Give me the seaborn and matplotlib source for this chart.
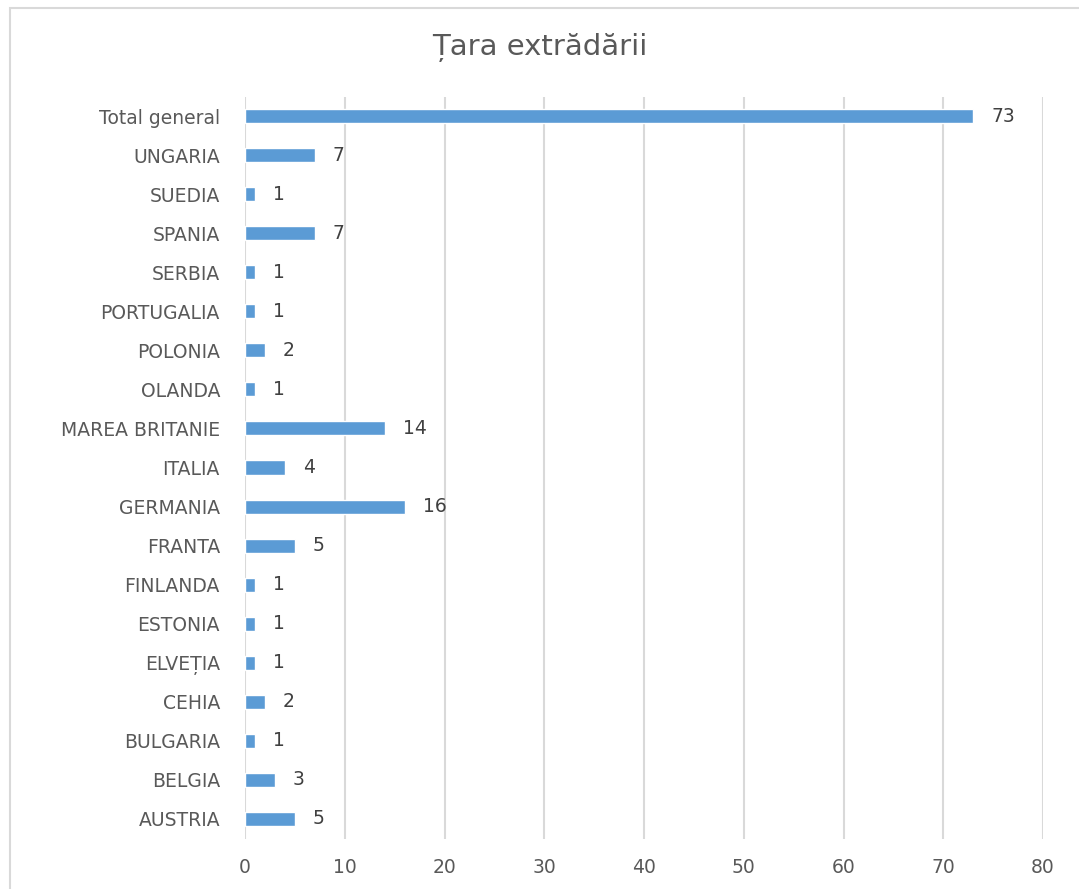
import matplotlib
matplotlib.use("Agg")
import matplotlib.pyplot as plt
import seaborn as sns
import pandas as pd
from matplotlib.patches import Rectangle

categories = ["Total general", "UNGARIA", "SUEDIA", "SPANIA", "SERBIA", "PORTUGALIA",
              "POLONIA", "OLANDA", "MAREA BRITANIE", "ITALIA", "GERMANIA", "FRANTA",
              "FINLANDA", "ESTONIA", "ELVEȚIA", "CEHIA", "BULGARIA", "BELGIA", "AUSTRIA"]
values = [73, 7, 1, 7, 1, 1, 2, 1, 14, 4, 16, 5, 1, 1, 1, 2, 1, 3, 5]
x_ticks = [0, 10, 20, 30, 40, 50, 60, 70, 80]
title = "Țara extrădării"

sns.set_theme(style="white")
plt.rcParams['font.family'] = ['DejaVu Sans']

df = pd.DataFrame({"cat": categories, "val": values})

fig = plt.figure(figsize=(10.79, 8.89), dpi=100)
ax = fig.add_axes([245/1079, 1 - 838.5/889, (1043-245)/1079, (838.5-96.5)/889])

sns.barplot(data=df, y="cat", x="val", color="#5B9BD5", saturation=1, width=0.36, ax=ax, zorder=3)

ax.set_xlim(0, 80)
ax.set_ylim(18.5, -0.5)
ax.set_xticks(x_ticks)
ax.set_xticklabels([str(t) for t in x_ticks])
ax.xaxis.grid(True, color="#D9D9D9", linewidth=1.5, zorder=0)
ax.yaxis.grid(False)
for s in ax.spines.values():
    s.set_visible(False)
ax.set_xlabel("")
ax.set_ylabel("")
ax.tick_params(axis="both", length=0, labelsize=13.5, colors="#595959")
ax.tick_params(axis="x", pad=14)
ax.tick_params(axis="y", pad=18)

for i, v in enumerate(values):
    ax.text(v + 1.8, i, str(v), va="center", ha="left", fontsize=13.5, color="#404040")

fig.text(0.5, 1 - 48/889, title, ha="center", va="center", fontsize=21, color="#595959")

fig.patches.append(Rectangle((10/1079, -0.05), 1.1, 1 - 8/889 + 0.05, transform=fig.transFigure,
                             fill=False, edgecolor="#D9D9D9", linewidth=1.5))

fig.savefig("out.png", dpi=100)
